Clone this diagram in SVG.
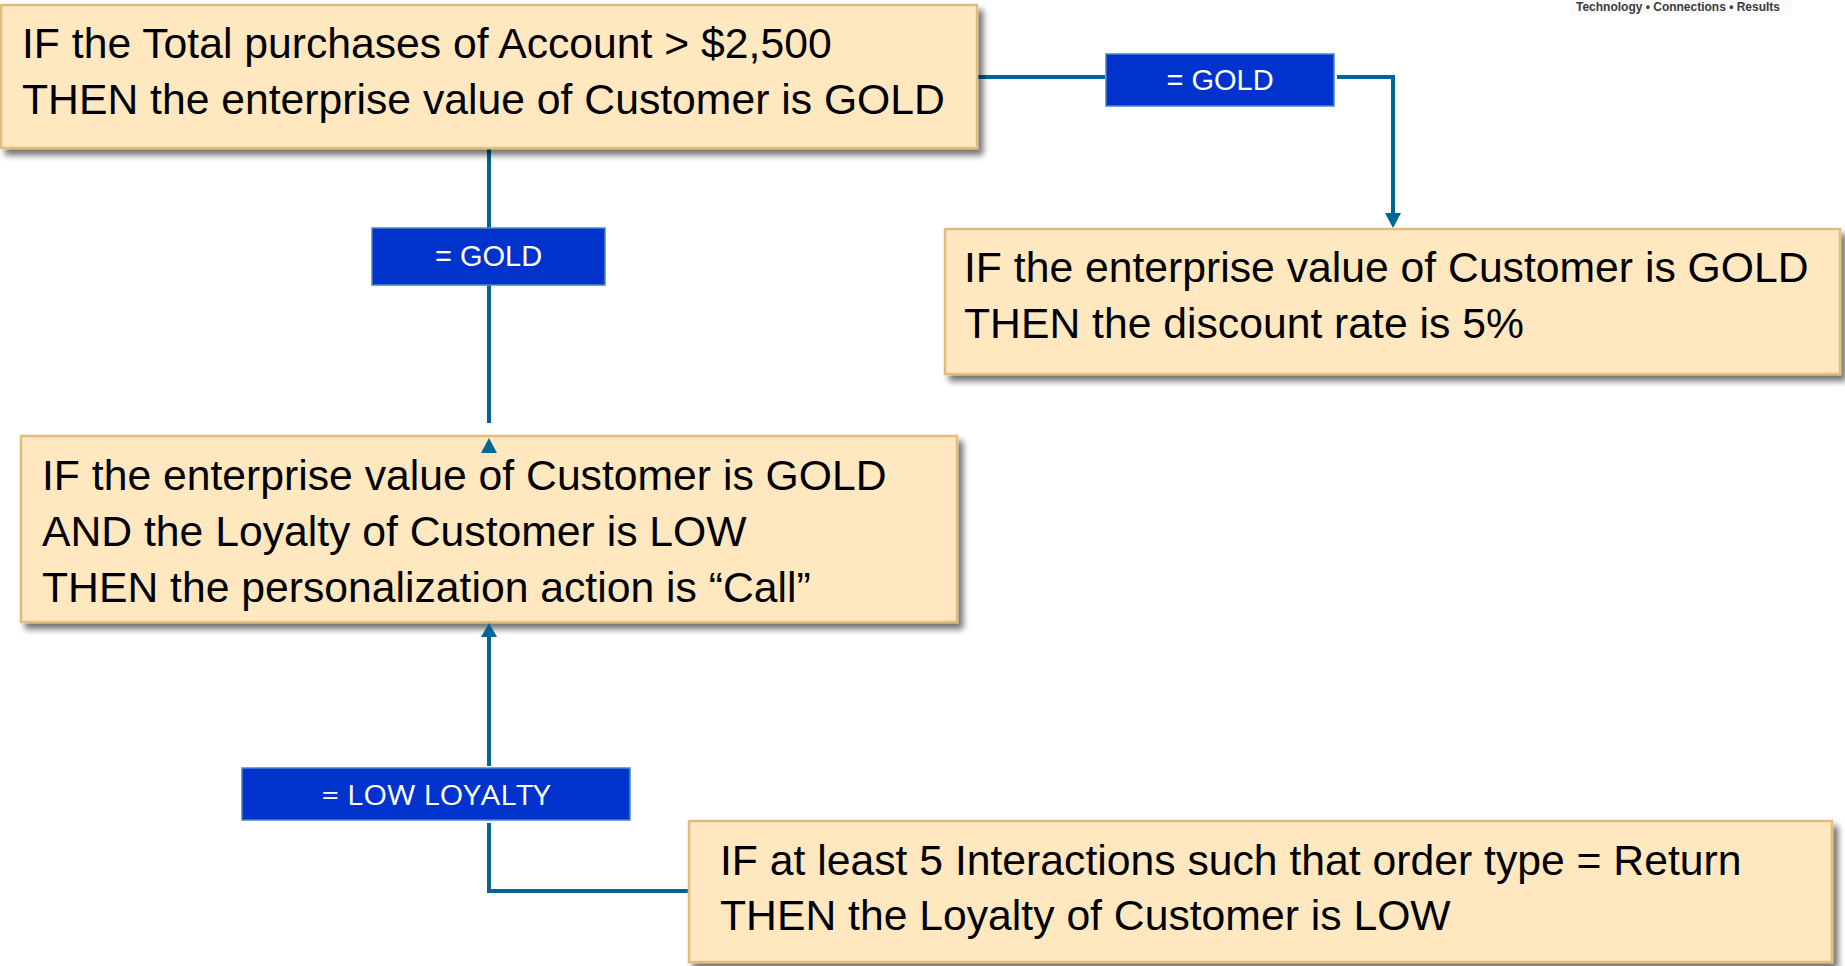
<svg xmlns="http://www.w3.org/2000/svg" width="1845" height="966" viewBox="0 0 1845 966">
  <defs>
    <filter id="sh" x="-5%" y="-10%" width="115%" height="130%">
      <feGaussianBlur in="SourceAlpha" stdDeviation="3"/>
      <feOffset dx="5" dy="6" result="b"/>
      <feComponentTransfer><feFuncA type="linear" slope="0.55"/></feComponentTransfer>
      <feMerge><feMergeNode/><feMergeNode in="SourceGraphic"/></feMerge>
    </filter>
  </defs>
  <style>
    .box { fill: #FFE8C0; stroke: #E2BC7C; stroke-width: 2.5; }
    .t { font-family: "Liberation Sans", Arial, sans-serif; font-size: 42.7px; fill: #000; }
    .lbl { fill: #0033CC; stroke: #4A86C8; stroke-width: 1.5; }
    .lt { font-family: "Liberation Sans", Arial, sans-serif; font-size: 29px; fill: #fff; text-anchor: middle; }
    .lt2 { font-family: "Open Sans", "Noto Sans", sans-serif; font-size: 28px; fill: #fff; text-anchor: middle; }
    .c { fill: none; stroke: #006699; stroke-width: 4; }
    .ah { fill: #006699; }
  </style>
  <rect width="1845" height="966" fill="#fff"/>

  <g id="logo">
    <rect x="1570" y="0" width="222" height="15" fill="#fafafa"/>
    <text x="1576" y="11" font-family="'Liberation Sans Narrow', 'Liberation Sans', sans-serif" font-weight="bold" font-size="13" fill="#3a3a3a" textLength="204" lengthAdjust="spacingAndGlyphs">Technology • Connections • Results</text>
  </g>

  <g id="connectors">
    <polyline class="c" points="977,77 1105,77"/>
    <polyline class="c" points="1337,77 1393,77 1393,214"/>
    <path class="ah" d="M1385,213 L1401,213 L1393,228 Z"/>
    <line class="c" x1="489" y1="149" x2="489" y2="228"/>
    <line class="c" x1="489" y1="285" x2="489" y2="423"/>
    <line class="c" x1="489" y1="636" x2="489" y2="766"/>
    <polyline class="c" points="489,823 489,891 688,891"/>
  </g>

  <g id="rule1">
    <rect class="box" x="1" y="5" width="976" height="143" filter="url(#sh)"/>
    <text class="t" x="22" y="58">IF the Total purchases of Account &gt; $2,500</text>
    <text class="t" x="22" y="114">THEN the enterprise value of Customer is GOLD</text>
  </g>

  <g id="rule2">
    <rect class="box" x="945" y="229" width="895" height="145" filter="url(#sh)"/>
    <text class="t" x="964" y="282">IF the enterprise value of Customer is GOLD</text>
    <text class="t" x="964" y="338">THEN the discount rate is 5%</text>
  </g>

  <g id="rule3">
    <rect class="box" x="21" y="436" width="936" height="186" filter="url(#sh)"/>
    <text class="t" x="42" y="490">IF the enterprise value of Customer is GOLD</text>
    <text class="t" x="42" y="546">AND the Loyalty of Customer is LOW</text>
    <text class="t" x="42" y="602">THEN the personalization action is “Call”</text>
  </g>

  <g id="rule4">
    <rect class="box" x="689" y="821" width="1143" height="141" filter="url(#sh)"/>
    <text class="t" x="720" y="875">IF at least 5 Interactions such that order type = Return</text>
    <text class="t" x="720" y="930">THEN the Loyalty of Customer is LOW</text>
  </g>

  <g id="arrowheads">
    <path class="ah" d="M481,453 L497,453 L489,438 Z"/>
    <path class="ah" d="M481,637 L497,637 L489,623 Z"/>
  </g>

  <g id="label-gold-1">
    <rect class="lbl" x="1106" y="54" width="228" height="52"/>
    <text class="lt" x="1220" y="90">= GOLD</text>
  </g>
  <g id="label-gold-2">
    <rect class="lbl" x="372" y="228" width="233" height="57"/>
    <text class="lt" x="488.5" y="266">= GOLD</text>
  </g>
  <g id="label-low">
    <rect class="lbl" x="242" y="768" width="388" height="52"/>
    <text class="lt2" x="436" y="805" textLength="229" lengthAdjust="spacingAndGlyphs">= LOW LOYALTY</text>
  </g>
</svg>
